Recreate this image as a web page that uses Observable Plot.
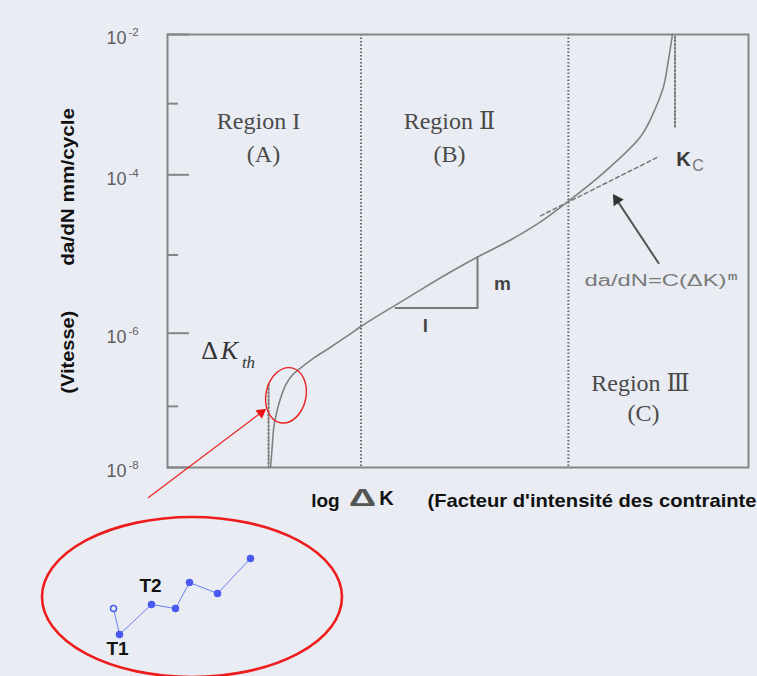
<!DOCTYPE html>
<html><head><meta charset="utf-8">
<script src="https://cdn.jsdelivr.net/npm/d3@7"></script>
<script src="https://cdn.jsdelivr.net/npm/@observablehq/plot@0.6"></script>
<style>
html,body{margin:0;padding:0;background:#e9edf3;overflow:hidden;width:757px;height:676px}
#wrap{position:relative;width:757px;height:676px}
#wrap svg{position:absolute;overflow:visible}
</style></head><body><div id="wrap"></div>
<script>
// ---------- data (x = log ΔK in arbitrary units, y = log10 of da/dN in mm/cycle) ----------
const decadeExp = [-8, -7, -6, -5, -4, -3, -2];
const yExpMajor = [-2, -4, -6, -8];
const yExpMinor = [-3, -5, -7];
const curveX = [1.773, 1.802, 1.830, 1.888, 1.945, 2.031, 2.146, 2.289, 2.513, 2.806, 3.064, 3.322, 3.666, 4.010, 4.406, 4.871, 5.336, 5.904, 6.420, 6.885, 7.504, 8.141, 8.365, 8.537, 8.623, 8.692];
const curveY = [-8, -7.667, -7.339, -7.066, -6.890, -6.712, -6.575, -6.479, -6.342, -6.192, -6.055, -5.918, -5.756, -5.603, -5.423, -5.218, -5.026, -4.8125, -4.5875, -4.3375, -3.972, -3.465, -3.127, -2.754, -2.362, -2.0];
const regionBounds = [3.33, 6.90];
const kthAsymX = [1.74, 1.74], kthAsymY = [-8, -6.685];
const kcAsymX = [8.735, 8.735], kcAsymY = [-3.324, -2];
const parisX = [6.42, 8.451], parisY = [-4.5125, -3.746];
const slopeX = [3.924, 5.336, 5.336], slopeY = [-5.679, -5.679, -5.026];
const regionLabels = ["Region I", "Region Ⅱ", "Region Ⅲ"];
const regionLabelX = [1.566, 4.854, 8.141], regionLabelY = [-3.254, -3.254, -6.685];
const regionLetters = ["(A)", "(B)", "(C)"];
const regionLetterX = [1.652, 4.854, 8.193], regionLetterY = [-3.718, -3.718, -7.115];
// black arrow to the Paris line
const parisArrowX = [8.451, 7.733], parisArrowY = [-5.103, -4.3125];
// red arrow from the zoom ellipse to the threshold
const zoomArrowX = [-0.327, 1.613], zoomArrowY = [-8.492, -7.102];
const thresholdEllipse = [{x: 2.048, y: -6.856}];
const zoomEllipse = [{x: 5.333, y: 3.835}];
// inset (zoom of threshold region), arbitrary units
const insetX = [3.139, 3.306, 4.194, 4.861, 5.25, 6.028, 6.944];
const insetY = [3.30, 2.039, 3.495, 3.30, 4.563, 4.029, 5.728];
const insetLabels = ["T1", "T2"], insetLabelX = [3.25, 4.167], insetLabelY = [1.36, 4.417];

// the sketch's decades are not evenly spaced: piecewise warp of the log axis
const warp = d3.scaleLinear().domain(decadeExp).range([0, 61, 134, 212, 292, 363, 432]);

const SANS = "Liberation Sans, Arial, sans-serif";
const SERIF = "Liberation Serif, DejaVu Serif, Times New Roman, serif";
const idx = a => a.map((_, i) => i);

function stretch(len) {
  return (index, scales, values, dims, ctx, next) => {
    const g = next(index, scales, values, dims, ctx);
    g.querySelectorAll("text").forEach(t => {
      t.setAttribute("textLength", len);
      t.setAttribute("lengthAdjust", "spacingAndGlyphs");
    });
    return g;
  };
}
function ellipses(data, {yf = v => v, rx, ry, angle = 0, stroke, strokeWidth}) {
  return (index, scales) => {
    const g = d3.create("svg:g");
    g.selectAll("ellipse").data(data).join("ellipse")
      .attr("cx", d => scales.x(d.x)).attr("cy", d => scales.y(yf(d.y)))
      .attr("rx", rx).attr("ry", ry)
      .attr("transform", d => `rotate(${angle},${scales.x(d.x)},${scales.y(yf(d.y))})`)
      .attr("fill", "none").attr("stroke", stroke).attr("stroke-width", strokeWidth);
    return g.node();
  };
}

const dotted = {stroke: "#666", strokeWidth: 2, strokeDasharray: "1.5 2"};
const dottedLight = {stroke: "#777", strokeWidth: 2, strokeDasharray: "1.5 2.2"};
const T = (arr, ax, ay, opts) => Plot.text(arr, {x: (d, i) => ax[i], y: (d, i) => warp(ay[i]), text: d => d, ...opts});
const L = (ax, ay, opts) => Plot.line(idx(ax), {x: i => ax[i], y: i => warp(ay[i]), ...opts});

const main = Plot.plot({
  width: 757, height: 676,
  marginLeft: 167, marginRight: 9, marginTop: 34, marginBottom: 209,
  style: {background: "transparent", overflow: "visible"},
  x: {domain: [0, 10], axis: null},
  y: {domain: [0, 432], axis: null},
  marks: [
    Plot.ruleX(regionBounds, dotted),
    L(kthAsymX, kthAsymY, dottedLight),
    L(kcAsymX, kcAsymY, dottedLight),
    L(parisX, parisY, {stroke: "#777", strokeWidth: 1.5, strokeDasharray: "4 3"}),
    L(curveX, curveY, {curve: "catmull-rom", stroke: "#808080", strokeWidth: 1.6}),
    L(slopeX, slopeY, {stroke: "#7a7a7a", strokeWidth: 2}),
    Plot.frame({stroke: "#858585", strokeWidth: 2}),
    Plot.ruleY(yExpMajor, {y: d => warp(d), x1: 0, x2: 0.38, stroke: "#858585", strokeWidth: 2}),
    Plot.ruleY(yExpMinor, {y: d => warp(d), x1: 0, x2: 0.19, stroke: "#858585", strokeWidth: 2}),
    Plot.text(yExpMajor, {y: d => warp(d), frameAnchor: "left", text: () => "10", textAnchor: "end", dx: -41, dy: 4, fontSize: 18, fill: "#5e5e5e", fontFamily: SANS}),
    Plot.text(yExpMajor, {y: d => warp(d), frameAnchor: "left", text: d => String(d), textAnchor: "start", dx: -39, dy: -2, fontSize: 11.5, fill: "#5e5e5e", fontFamily: SANS}),
    // region labels
    T(regionLabels, regionLabelX, regionLabelY, {fontSize: 24, fontFamily: SERIF, fill: "#4a4a4a"}),
    T(regionLetters, regionLetterX, regionLetterY, {fontSize: 24, fontFamily: SERIF, fill: "#4a4a4a"}),
    // ΔK_th
    T(["Δ"], [0.723], [-6.233], {fontSize: 26, fontFamily: SERIF, fill: "#333"}),
    T(["K"], [1.067], [-6.233], {fontSize: 26, fontFamily: SERIF, fontStyle: "italic", fill: "#333"}),
    T(["th"], [1.394], [-6.397], {fontSize: 17, fontFamily: SERIF, fontStyle: "italic", fill: "#333"}),
    // slope labels
    T(["m"], [5.766], [-5.372], {fontSize: 19, fontWeight: "bold", fontFamily: SANS, fill: "#444"}),
    T(["l"], [4.44], [-5.91], {fontSize: 19, fontWeight: "bold", fontFamily: SANS, fill: "#444"}),
    // Kc
    T(["K"], [8.881], [-3.789], {fontSize: 20, fontWeight: "bold", fontFamily: SANS, fill: "#3a3a3a"}),
    T(["C"], [9.13], [-3.873], {fontSize: 16, fontFamily: SANS, fill: "#777"}),
    // Paris law label
    T(["da/dN=C(ΔK)"], [8.399], [-5.333], {fontSize: 16, fontFamily: SANS, fill: "#7a7a7a", render: stretch(142)}),
    T(["m"], [9.725], [-5.269], {fontSize: 11, fontFamily: SANS, fontWeight: "bold", fill: "#7a7a7a"}),
    // black arrow
    L(parisArrowX, parisArrowY, {stroke: "#555", strokeWidth: 2}),
    Plot.dot([1], {x: i => parisArrowX[i], y: i => warp(parisArrowY[i]), symbol: "triangle", r: 4.5, rotate: -33.5, fill: "#333", stroke: "none"}),
    // red threshold ellipse and arrow
    ellipses(thresholdEllipse, {yf: warp, rx: 20, ry: 28, angle: 12, stroke: "#e82020", strokeWidth: 1.4}),
    L(zoomArrowX, zoomArrowY, {stroke: "#ee2222", strokeWidth: 1.2}),
    Plot.dot([1], {x: i => zoomArrowX[i], y: i => warp(zoomArrowY[i]), symbol: "triangle", r: 4, rotate: 53, fill: "#ee1111", stroke: "none"}),
    // axis titles
    T(["da/dN mm/cycle"], [-1.721], [-4.15], {rotate: -90, fontSize: 19, fontWeight: "bold", fontFamily: SANS, fill: "#111", render: stretch(158)}),
    T(["(Vitesse)"], [-1.721], [-6.26], {rotate: -90, fontSize: 19, fontWeight: "bold", fontFamily: SANS, fill: "#111", render: stretch(83)}),
    T(["log"], [2.719], [-8.541], {fontSize: 19, fontWeight: "bold", fontFamily: SANS, fill: "#111"}),
    T(["Δ"], [3.356], [-8.508], {fontSize: 24, fontWeight: "bold", fontFamily: SANS, fill: "#555", render: stretch(27)}),
    T(["K"], [3.769], [-8.508], {fontSize: 20, fontWeight: "bold", fontFamily: SANS, fill: "#111"}),
    T(["(Facteur d'intensité des contraintes)"], [4.475], [-8.541], {textAnchor: "start", fontSize: 19, fontWeight: "bold", fontFamily: SANS, fill: "#111", render: stretch(347)})
  ]
});
main.style.left = "0px"; main.style.top = "0px";

const inset = Plot.plot({
  width: 360, height: 206,
  margin: 0,
  style: {background: "transparent", overflow: "visible"},
  x: {domain: [0, 10], range: [0, 360], axis: null},
  y: {domain: [0, 10], range: [206, 0], axis: null},
  marks: [
    ellipses(zoomEllipse, {rx: 150, ry: 80, angle: 0, stroke: "#ee1c1c", strokeWidth: 2.6}),
    Plot.line(idx(insetX), {x: i => insetX[i], y: i => insetY[i], stroke: "#6f7cf2", strokeWidth: 1}),
    Plot.dot(idx(insetX).slice(1), {x: i => insetX[i], y: i => insetY[i], r: 3, fill: "#4a5af0", stroke: "#4a5af0"}),
    Plot.dot([0], {x: i => insetX[i], y: i => insetY[i], r: 3, fill: "#e9edf3", stroke: "#4a5af0", strokeWidth: 1.5}),
    Plot.text(insetLabels, {x: (d, i) => insetLabelX[i], y: (d, i) => insetLabelY[i], text: d => d, fontSize: 19, fontWeight: "bold", fontFamily: SANS, fill: "#111"})
  ]
});
inset.style.left = "0px"; inset.style.top = "470px";

const wrap = document.getElementById("wrap");
wrap.appendChild(main);
wrap.appendChild(inset);
</script></body></html>
